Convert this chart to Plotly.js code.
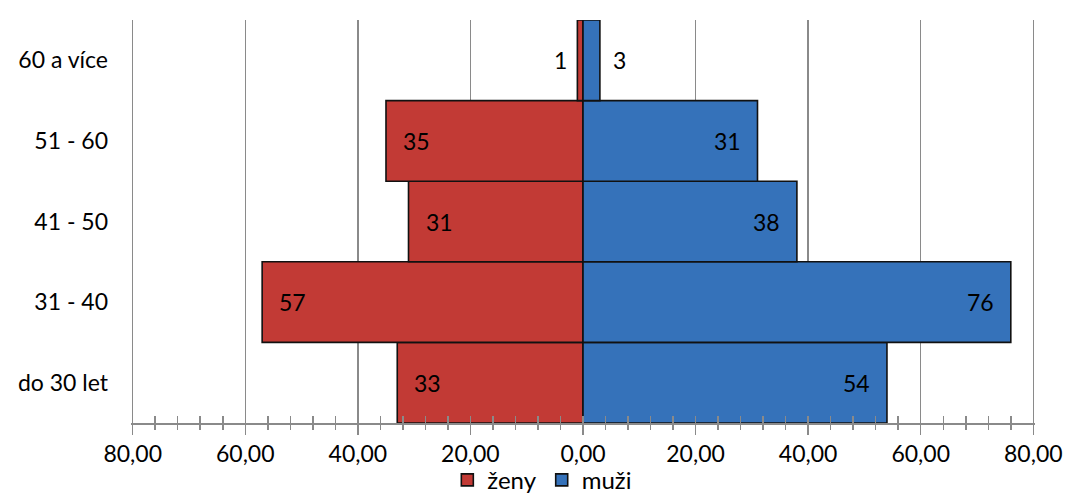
<!DOCTYPE html>
<html>
<head>
<meta charset="utf-8">
<script src="https://cdn.plot.ly/plotly-3.0.1.min.js"></script>
<style>
  html, body { margin: 0; padding: 0; background: #fff; }
  #chart { width: 1068px; height: 496px; }
</style>
</head>
<body>
<div id="chart"></div>
<script>
// Age groups, bottom to top
const ageGroups = ['do 30 let', '31 - 40', '41 - 50', '51 - 60', '60 a více'];
// Counts per age group
const zeny = [33, 57, 31, 35, 1];
const muzi = [54, 76, 38, 31, 3];
// Axis ticks (women drawn to the left of zero)
const tickValues = [-80, -60, -40, -20, 0, 20, 40, 60, 80];
const tickLabels = ['80,00', '60,00', '40,00', '20,00', '0,00', '20,00', '40,00', '60,00', '80,00'];

const FONT = 'Lato, "Open Sans", sans-serif';
const FS = 23;
const RED = '#c23a35';
const BLUE = '#3572ba';
const GREY = '#8a8a8a';

const zenyTrace = {
  type: 'bar', orientation: 'h', name: 'ženy',
  y: ageGroups, x: zeny.map(v => -v),
  marker: { color: RED, line: { color: '#111', width: 1.6 } },
  hoverinfo: 'skip'
};
const muziTrace = {
  type: 'bar', orientation: 'h', name: 'muži',
  y: ageGroups, x: muzi,
  marker: { color: BLUE, line: { color: '#111', width: 1.6 } },
  hoverinfo: 'skip'
};
// Empty helper trace so the overlaid tick axis is drawn
const tickHelper = {
  type: 'scatter', mode: 'markers', x: [], y: [], xaxis: 'x2', yaxis: 'y',
  showlegend: false, hoverinfo: 'skip'
};

// Value labels: inside near the bar tip, outside for very short bars
const annotations = [];
ageGroups.forEach((g, i) => {
  const w = zeny[i];
  const wInside = w >= 5;
  annotations.push({
    x: -w, y: g, xref: 'x', yref: 'y', text: String(w), showarrow: false,
    xanchor: wInside ? 'left' : 'right', xshift: wInside ? 15 : -8,
    font: { family: FONT, size: FS, color: '#000' }
  });
  const m = muzi[i];
  const mInside = m >= 5;
  annotations.push({
    x: m, y: g, xref: 'x', yref: 'y', text: String(m), showarrow: false,
    xanchor: mInside ? 'right' : 'left', xshift: mInside ? -15 : 11,
    font: { family: FONT, size: FS, color: '#000' }
  });
});

const layout = {
  width: 1068, height: 496,
  margin: { l: 131, r: 33, t: 20, b: 73, autoexpand: false },
  paper_bgcolor: '#fff', plot_bgcolor: '#fff',
  barmode: 'relative', bargap: 0,
  font: { family: FONT, size: FS, color: '#000' },
  showlegend: true,
  legend: {
    orientation: 'h', x: 0.455, xanchor: 'center', y: -0.142, yanchor: 'middle',
    font: { family: FONT, size: 24, color: '#000' },
    itemwidth: 30, tracegroupgap: 0, traceorder: 'normal',
    bgcolor: 'rgba(0,0,0,0)'
  },
  xaxis: {
    range: [-80.3, 80.3], tickvals: tickValues, ticktext: tickLabels,
    showgrid: true, gridcolor: GREY, gridwidth: 1.5,
    zeroline: false,
    showline: true, linecolor: GREY, linewidth: 1.5,
    ticks: 'outside', ticklen: 10, tickwidth: 1.5, tickcolor: GREY,
    minor: { dtick: 4, tick0: 0, ticks: 'outside', ticklen: 5, tickwidth: 1.5, tickcolor: GREY, showgrid: false },
    tickfont: { family: FONT, size: FS, color: '#000' },
    fixedrange: true
  },
  // Upper halves of the tick marks, crossing the axis line
  xaxis2: {
    overlaying: 'x', anchor: 'y', side: 'bottom',
    range: [-80.3, 80.3], tickvals: tickValues, showticklabels: false,
    showgrid: false, zeroline: false, showline: false,
    ticks: 'inside', ticklen: 7, tickwidth: 1.5, tickcolor: GREY,
    minor: { dtick: 4, tick0: 0, ticks: 'inside', ticklen: 7, tickwidth: 1.5, tickcolor: GREY, showgrid: false },
    fixedrange: true
  },
  yaxis: {
    type: 'category', categoryorder: 'array', categoryarray: ageGroups,
    showgrid: false, zeroline: false, showline: false,
    ticks: '', ticklabelstandoff: 22,
    tickfont: { family: FONT, size: FS, color: '#000' },
    fixedrange: true
  },
  annotations: annotations
};

Plotly.newPlot('chart', [zenyTrace, muziTrace, tickHelper], layout, { staticPlot: true, displayModeBar: false });
</script>
</body>
</html>
